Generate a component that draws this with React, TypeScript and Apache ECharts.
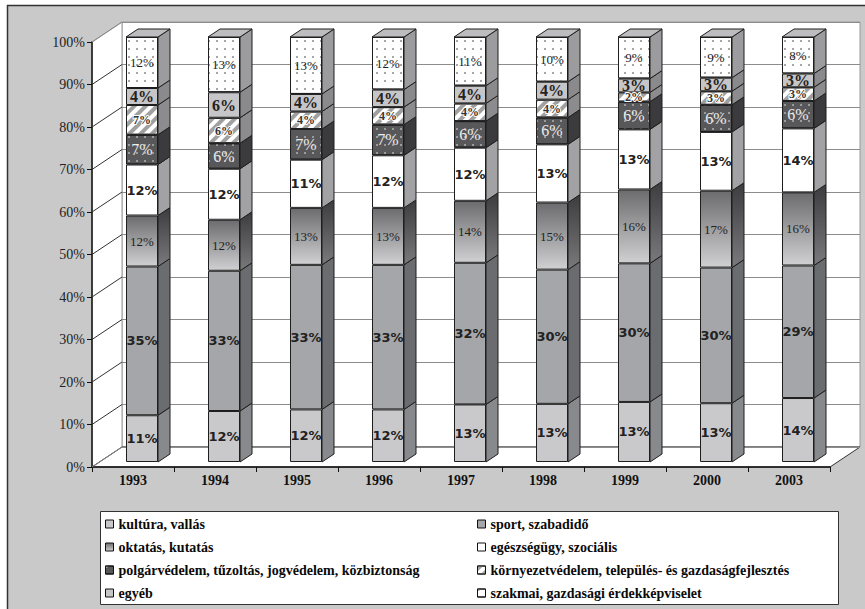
import React, { useEffect, useRef } from "react";
import * as echarts from "echarts";

const years = ["1993", "1994", "1995", "1996", "1997", "1998", "1999", "2000", "2003"];
const seriesNames = [
  "kultúra, vallás",
  "sport, szabadidő",
  "oktatás, kutatás",
  "egészségügy, szociális",
  "polgárvédelem, tűzoltás, jogvédelem, közbiztonság",
  "környezetvédelem, település- és gazdaságfejlesztés",
  "egyéb",
  "szakmai, gazdasági érdekképviselet",
];
const kultura = [11, 12, 12, 12, 13, 13, 13, 13, 14];
const sport = [35, 33, 33, 33, 32, 30, 30, 30, 29];
const oktatas = [12, 12, 13, 13, 14, 15, 16, 17, 16];
const egeszseg = [12, 12, 11, 12, 12, 13, 13, 13, 14];
const polgar = [7, 6, 7, 7, 6, 6, 6, 6, 6];
const kornyezet = [7, 6, 4, 4, 4, 4, 2, 3, 3];
const egyeb = [4, 6, 4, 4, 4, 4, 3, 3, 3];
const szakmai = [12, 13, 13, 12, 11, 10, 9, 9, 8];
const yTicks = [0, 10, 20, 30, 40, 50, 60, 70, 80, 90, 100];

const legendCol1 = [seriesNames[0], seriesNames[2], seriesNames[4], seriesNames[6]];
const legendCol2 = [seriesNames[1], seriesNames[3], seriesNames[5], seriesNames[7]];

export default function App() {
  const ref = useRef<HTMLDivElement>(null);
  useEffect(() => {
    if (!ref.current) return;
    const chart = echarts.init(ref.current, undefined, { renderer: "svg" });
    const raw = [kultura, sport, oktatas, egeszseg, polgar, kornyezet, egyeb, szakmai];
    const sums = years.map((_, i) => raw.reduce((s, a) => s + a[i], 0));
    const norm = raw.map((arr) => arr.map((v, i) => (v / sums[i]) * 100));

    const serif = "'Liberation Serif', 'DejaVu Serif', serif";
    const sans = "'DejaVu Sans', Verdana, sans-serif";
    const dots = (c: string) => ({
      symbol: "rect",
      symbolSize: 1,
      color: c,
      dashArrayX: [1.2, 6],
      dashArrayY: [1.2, 6],
    });

    const fronts: any[] = [
      { color: "#c9c9cc" },
      { color: "#a4a6a9" },
      {
        color: new echarts.graphic.LinearGradient(0, 0, 0, 1, [
          { offset: 0, color: "#6c6c6e" },
          { offset: 1, color: "#d0d0d2" },
        ]),
      },
      { color: "#ffffff" },
      { color: "#58585b", decal: dots("#9a9a9a") },
      {
        color: "#ffffff",
        decal: {
          symbol: "rect",
          symbolSize: 1,
          color: "#a0a0a0",
          dashArrayX: [1, 0],
          dashArrayY: [4, 4],
          rotation: -Math.PI / 4,
        },
      },
      { color: "#c6c6c8" },
      { color: "#ffffff", decal: dots("#a6a6a6") },
    ];
    const sides = [
      "#88898c",
      "#6b6c6f",
      new echarts.graphic.LinearGradient(0, 0, 0, 1, [
        { offset: 0, color: "#3c3c3e" },
        { offset: 1, color: "#7a7a7c" },
      ]),
      "#a2a2a4",
      "#3b3b3d",
      "#8c8c8e",
      "#8a8a8c",
      "#9c9c9e",
    ];
    const labels: any[] = [
      { fontFamily: sans, fontWeight: "bold", fontSize: 13, color: "#222" },
      { fontFamily: sans, fontWeight: "bold", fontSize: 13, color: "#222" },
      { fontFamily: serif, fontSize: 13, color: "#222" },
      { fontFamily: sans, fontWeight: "bold", fontSize: 13, color: "#222" },
      { fontFamily: serif, fontSize: 16, color: "#ececec" },
      { fontFamily: serif, fontWeight: "bold", fontSize: 12, color: "#333", textBorderColor: "#fff", textBorderWidth: 2 },
      { fontFamily: serif, fontWeight: "bold", fontSize: 16, color: "#222" },
      { fontFamily: serif, fontSize: 13, color: "#222" },
    ];

    const barSeries = raw.map((arr, s) => ({
      name: seriesNames[s],
      type: "bar",
      stack: "all",
      xAxisIndex: 2,
      yAxisIndex: 2,
      barWidth: 32,
      data: norm[s],
      itemStyle: { ...fronts[s], borderColor: "#1e1e1e", borderWidth: 1 },
      label: {
        show: true,
        position: "inside",
        formatter: (p: any) => raw[s][p.dataIndex] + "%",
        ...labels[s],
      },
    }));

    const sideData: any[] = [];
    years.forEach((_, i) => {
      let cum = 0;
      norm.forEach((arr, s) => {
        const lo = cum;
        cum += arr[i];
        sideData.push([i, lo, cum, s, s === norm.length - 1 ? 1 : 0]);
      });
    });

    const D = 12;
    const H = 8;
    const custom = {
      name: "3d",
      type: "custom",
      xAxisIndex: 2,
      yAxisIndex: 2,
      data: sideData,
      encode: { x: 0, y: [1, 2] },
      z: 3,
      renderItem: (params: any, api: any) => {
        const cat = api.value(0);
        const lo = api.value(1);
        const hi = api.value(2);
        const s = api.value(3);
        const top = api.value(4);
        const p0 = api.coord([cat, lo]);
        const p1 = api.coord([cat, hi]);
        const cx = p0[0];
        const children: any[] = [
          {
            type: "polygon",
            shape: {
              points: [
                [cx + 16, p0[1]],
                [cx + 16 + D, p0[1] - H],
                [cx + 16 + D, p1[1] - H],
                [cx + 16, p1[1]],
              ],
            },
            style: { fill: sides[s], stroke: "#1e1e1e", lineWidth: 1 },
          },
        ];
        if (top) {
          children.push({
            type: "polygon",
            shape: {
              points: [
                [cx - 16, p1[1]],
                [cx - 16 + D, p1[1] - H],
                [cx + 16 + D, p1[1] - H],
                [cx + 16, p1[1]],
              ],
            },
            style: { fill: "#bdbdbf", stroke: "#1e1e1e", lineWidth: 1 },
          });
        }
        return { type: "group", children };
      },
    };

    // layout
    const FL = 92, FT = 42, W = 738, HH = 425;
    const BL = 122, BT = 22;
    const graphics: any[] = [
      { type: "rect", shape: { x: 0, y: 0, width: 865, height: 5 }, style: { fill: "#fff" }, z: 0 },
      { type: "rect", shape: { x: 0, y: 0, width: 7, height: 609 }, style: { fill: "#fff" }, z: 0 },
      { type: "line", shape: { x1: 7, y1: 5.5, x2: 865, y2: 5.5 }, style: { stroke: "#333", lineWidth: 1.5 }, z: 0 },
      { type: "line", shape: { x1: 7.5, y1: 5, x2: 7.5, y2: 609 }, style: { stroke: "#333", lineWidth: 1.5 }, z: 0 },
      {
        type: "polygon",
        shape: { points: [[FL, FT], [BL, BT], [BL, BT + HH], [FL, FT + HH]] },
        style: { fill: "#fff", stroke: "#999", lineWidth: 1 },
        z: 0,
      },
      {
        type: "polygon",
        shape: { points: [[FL, FT + HH], [BL, BT + HH], [BL + W, BT + HH], [FL + W, FT + HH]] },
        style: { fill: "#fff", stroke: "#333", lineWidth: 1 },
        z: 0,
      },
      {
        type: "rect",
        shape: { x: 100.5, y: 511.5, width: 738, height: 93 },
        style: { fill: "#fff", stroke: "#333", lineWidth: 1 },
        z: 0,
      },
    ];
    yTicks.forEach((t) => {
      const yF = FT + HH - (t / 100) * HH;
      const yB = BT + HH - (t / 100) * HH;
      graphics.push({
        type: "line",
        shape: { x1: FL, y1: yF, x2: BL, y2: yB },
        style: { stroke: t === 100 || t === 0 ? "#888" : "#333", lineWidth: 1 },
        z: 1,
      });
    });

    const legendText = { fontFamily: serif, fontWeight: "bold", fontSize: 14, color: "#0a0a0a", lineHeight: 14 };
    const legendBase = {
      orient: "vertical",
      top: 512,
      height: 140,
      itemWidth: 8,
      itemHeight: 8,
      itemGap: 9,
      icon: "rect",
      selectedMode: false,
      itemStyle: { borderColor: "#111", borderWidth: 1 },
      textStyle: legendText,
    };

    chart.setOption({
      animation: false,
      backgroundColor: "#c9c9c9",
      graphic: { elements: graphics },
      legend: [
        { ...legendBase, left: 100, data: legendCol1.map((n) => ({ name: n, textStyle: legendText })) },
        { ...legendBase, left: 472, data: legendCol2.map((n) => ({ name: n, textStyle: legendText })) },
      ],
      grid: [
        { left: BL, top: BT, width: W, height: HH, show: true, backgroundColor: "#fff", borderColor: "#999", borderWidth: 1 },
        { left: FL, top: FT, width: W, height: HH },
        { left: 101, top: 37, width: W, height: HH },
      ],
      xAxis: [
        { type: "category", data: years, gridIndex: 0, show: false },
        {
          type: "category",
          data: years,
          gridIndex: 1,
          axisLine: { lineStyle: { color: "#111", width: 1.5 } },
          axisTick: { show: true, length: 5, lineStyle: { color: "#111" } },
          axisLabel: { fontFamily: serif, fontWeight: "bold", fontSize: 14, color: "#111", margin: 6 },
        },
        { type: "category", data: years, gridIndex: 2, show: false },
      ],
      yAxis: [
        {
          type: "value",
          gridIndex: 0,
          min: 0,
          max: 100,
          interval: 10,
          axisLabel: { show: false },
          axisLine: { show: false },
          axisTick: { show: false },
          splitLine: { lineStyle: { color: "#8c8c8c", width: 1 } },
        },
        {
          type: "value",
          gridIndex: 1,
          min: 0,
          max: 100,
          interval: 10,
          axisLine: { show: true, lineStyle: { color: "#111", width: 1.5 } },
          axisTick: { show: true, length: 5, lineStyle: { color: "#111" } },
          splitLine: { show: false },
          axisLabel: { formatter: "{value}%", fontFamily: serif, fontSize: 14, color: "#222", margin: 7 },
        },
        { type: "value", gridIndex: 2, min: 0, max: 100, show: false, splitLine: { show: false } },
      ],
      series: [...barSeries, custom],
    });
    return () => chart.dispose();
  }, []);
  return (
    <div
      ref={ref}
      style={{ position: "fixed", left: 0, top: 0, width: 865, height: 609 }}
    />
  );
}
